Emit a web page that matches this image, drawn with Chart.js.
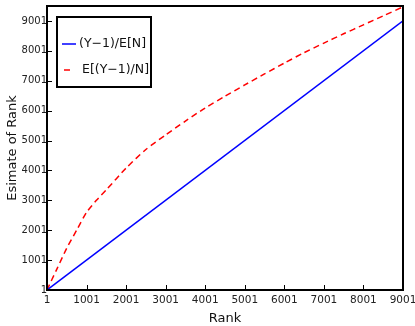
<!DOCTYPE html>
<html>
<head>
<meta charset="utf-8">
<script src="https://cdn.jsdelivr.net/npm/chart.js@4"></script>
<style>
  body { margin: 0; background: #fff; }
  #wrap { width: 415px; height: 326px; }
</style>
</head>
<body>
<div id="wrap"><canvas id="rankChart"></canvas></div>
<script>
// data
var rankTicks = [1, 1001, 2001, 3001, 4001, 5001, 6001, 7001, 8001, 9001];
var blueRank = [1, 9001];
var blueEst = [1, 9001];
var redRank = [1, 250, 500, 750, 1001, 1250, 1500, 2001, 2500, 3001, 3500, 4001, 4500, 5001, 5500, 6001, 6500, 7001, 7500, 8001, 8500, 9001];
var redEst = [1, 700, 1400, 2000, 2600, 3000, 3350, 4080, 4700, 5190, 5650, 6090, 6480, 6860, 7230, 7590, 7940, 8260, 8570, 8870, 9170, 9470];
var seriesNames = ['(Y\u22121)/E[N]', 'E[(Y\u22121)/N]'];

var font = 'DejaVu Sans';

function pts(xs, ys) {
  return xs.map(function(x, i) { return {x: x, y: ys[i]}; });
}

// frame, inward ticks and the boxed legend
var framePlugin = {
  id: 'frame',
  afterDraw: function(chart) {
    var c = chart.ctx, a = chart.chartArea;
    var xs = chart.scales.x, ys = chart.scales.y;
    c.save();
    c.strokeStyle = '#000';
    c.lineWidth = 1;
    rankTicks.forEach(function(t) {
      var px = Math.round(xs.getPixelForValue(t)) + 0.5;
      c.beginPath(); c.moveTo(px, a.bottom); c.lineTo(px, a.bottom - 5); c.stroke();
      var py = Math.round(ys.getPixelForValue(t)) + 0.5;
      c.beginPath(); c.moveTo(a.left, py); c.lineTo(a.left + 5, py); c.stroke();
    });
    c.lineWidth = 2;
    c.strokeRect(a.left, a.top, a.right - a.left, a.bottom - a.top);

    // legend
    var lx = a.left + 10, ly = a.top + 11, lw = 94, lh = 70;
    c.fillStyle = '#fff';
    c.fillRect(lx, ly, lw, lh);
    c.strokeRect(lx, ly, lw, lh);
    c.lineWidth = 1.5;
    c.strokeStyle = 'blue';
    c.beginPath(); c.moveTo(lx + 5, ly + 27); c.lineTo(lx + 19, ly + 27); c.stroke();
    c.strokeStyle = 'red';
    c.beginPath(); c.moveTo(lx + 7, ly + 53); c.lineTo(lx + 13, ly + 53); c.stroke();
    c.fillStyle = '#111';
    c.font = '12.5px ' + font;
    c.textBaseline = 'middle';
    c.fillText(seriesNames[0], lx + 22, ly + 27);
    c.fillText(seriesNames[1], lx + 25, ly + 53);
    c.restore();
  }
};

var ctx = document.getElementById('rankChart');
var rankChart = new Chart(ctx, {
  type: 'line',
  data: {
    datasets: [
      {
        label: seriesNames[0],
        data: pts(blueRank, blueEst),
        borderColor: 'blue',
        borderWidth: 1.5,
        pointRadius: 0,
        tension: 0
      },
      {
        label: seriesNames[1],
        data: pts(redRank, redEst),
        borderColor: 'red',
        borderWidth: 1.5,
        borderDash: [6, 4],
        pointRadius: 0,
        tension: 0.2
      }
    ]
  },
  options: {
    responsive: true,
    maintainAspectRatio: false,
    animation: false,
    layout: { padding: { left: 5, right: 12, top: 6, bottom: 0 } },
    plugins: { legend: { display: false }, tooltip: { enabled: false } },
    scales: {
      x: {
        type: 'linear',
        min: 1,
        max: 9001,
        afterBuildTicks: function(s) { s.ticks = rankTicks.map(function(v) { return {value: v}; }); },
        afterFit: function(s) { s.height = 36; s.paddingLeft = 0; s.paddingRight = 0; },
        grid: { display: false, drawTicks: false },
        border: { display: false },
        ticks: { color: '#222', font: { family: font, size: 10.5 }, padding: 4, maxRotation: 0, autoSkip: false,
                 callback: function(v) { return String(v); } },
        title: { display: true, text: 'Rank', color: '#111', font: { family: font, size: 13 }, padding: { top: 0, bottom: 0 } }
      },
      y: {
        type: 'linear',
        min: 1,
        max: 9500,
        afterBuildTicks: function(s) { s.ticks = rankTicks.map(function(v) { return {value: v}; }); },
        afterFit: function(s) { s.width = 42; s.paddingTop = 0; s.paddingBottom = 0; },
        grid: { display: false, drawTicks: false },
        border: { display: false },
        ticks: { color: '#222', font: { family: font, size: 10 }, padding: 0, autoSkip: false,
                 callback: function(v) { return String(v); } },
        title: { display: true, text: 'Esimate of Rank', color: '#111', font: { family: font, size: 13 }, padding: { top: 0, bottom: 0 } }
      }
    }
  },
  plugins: [framePlugin]
});
</script>
</body>
</html>
